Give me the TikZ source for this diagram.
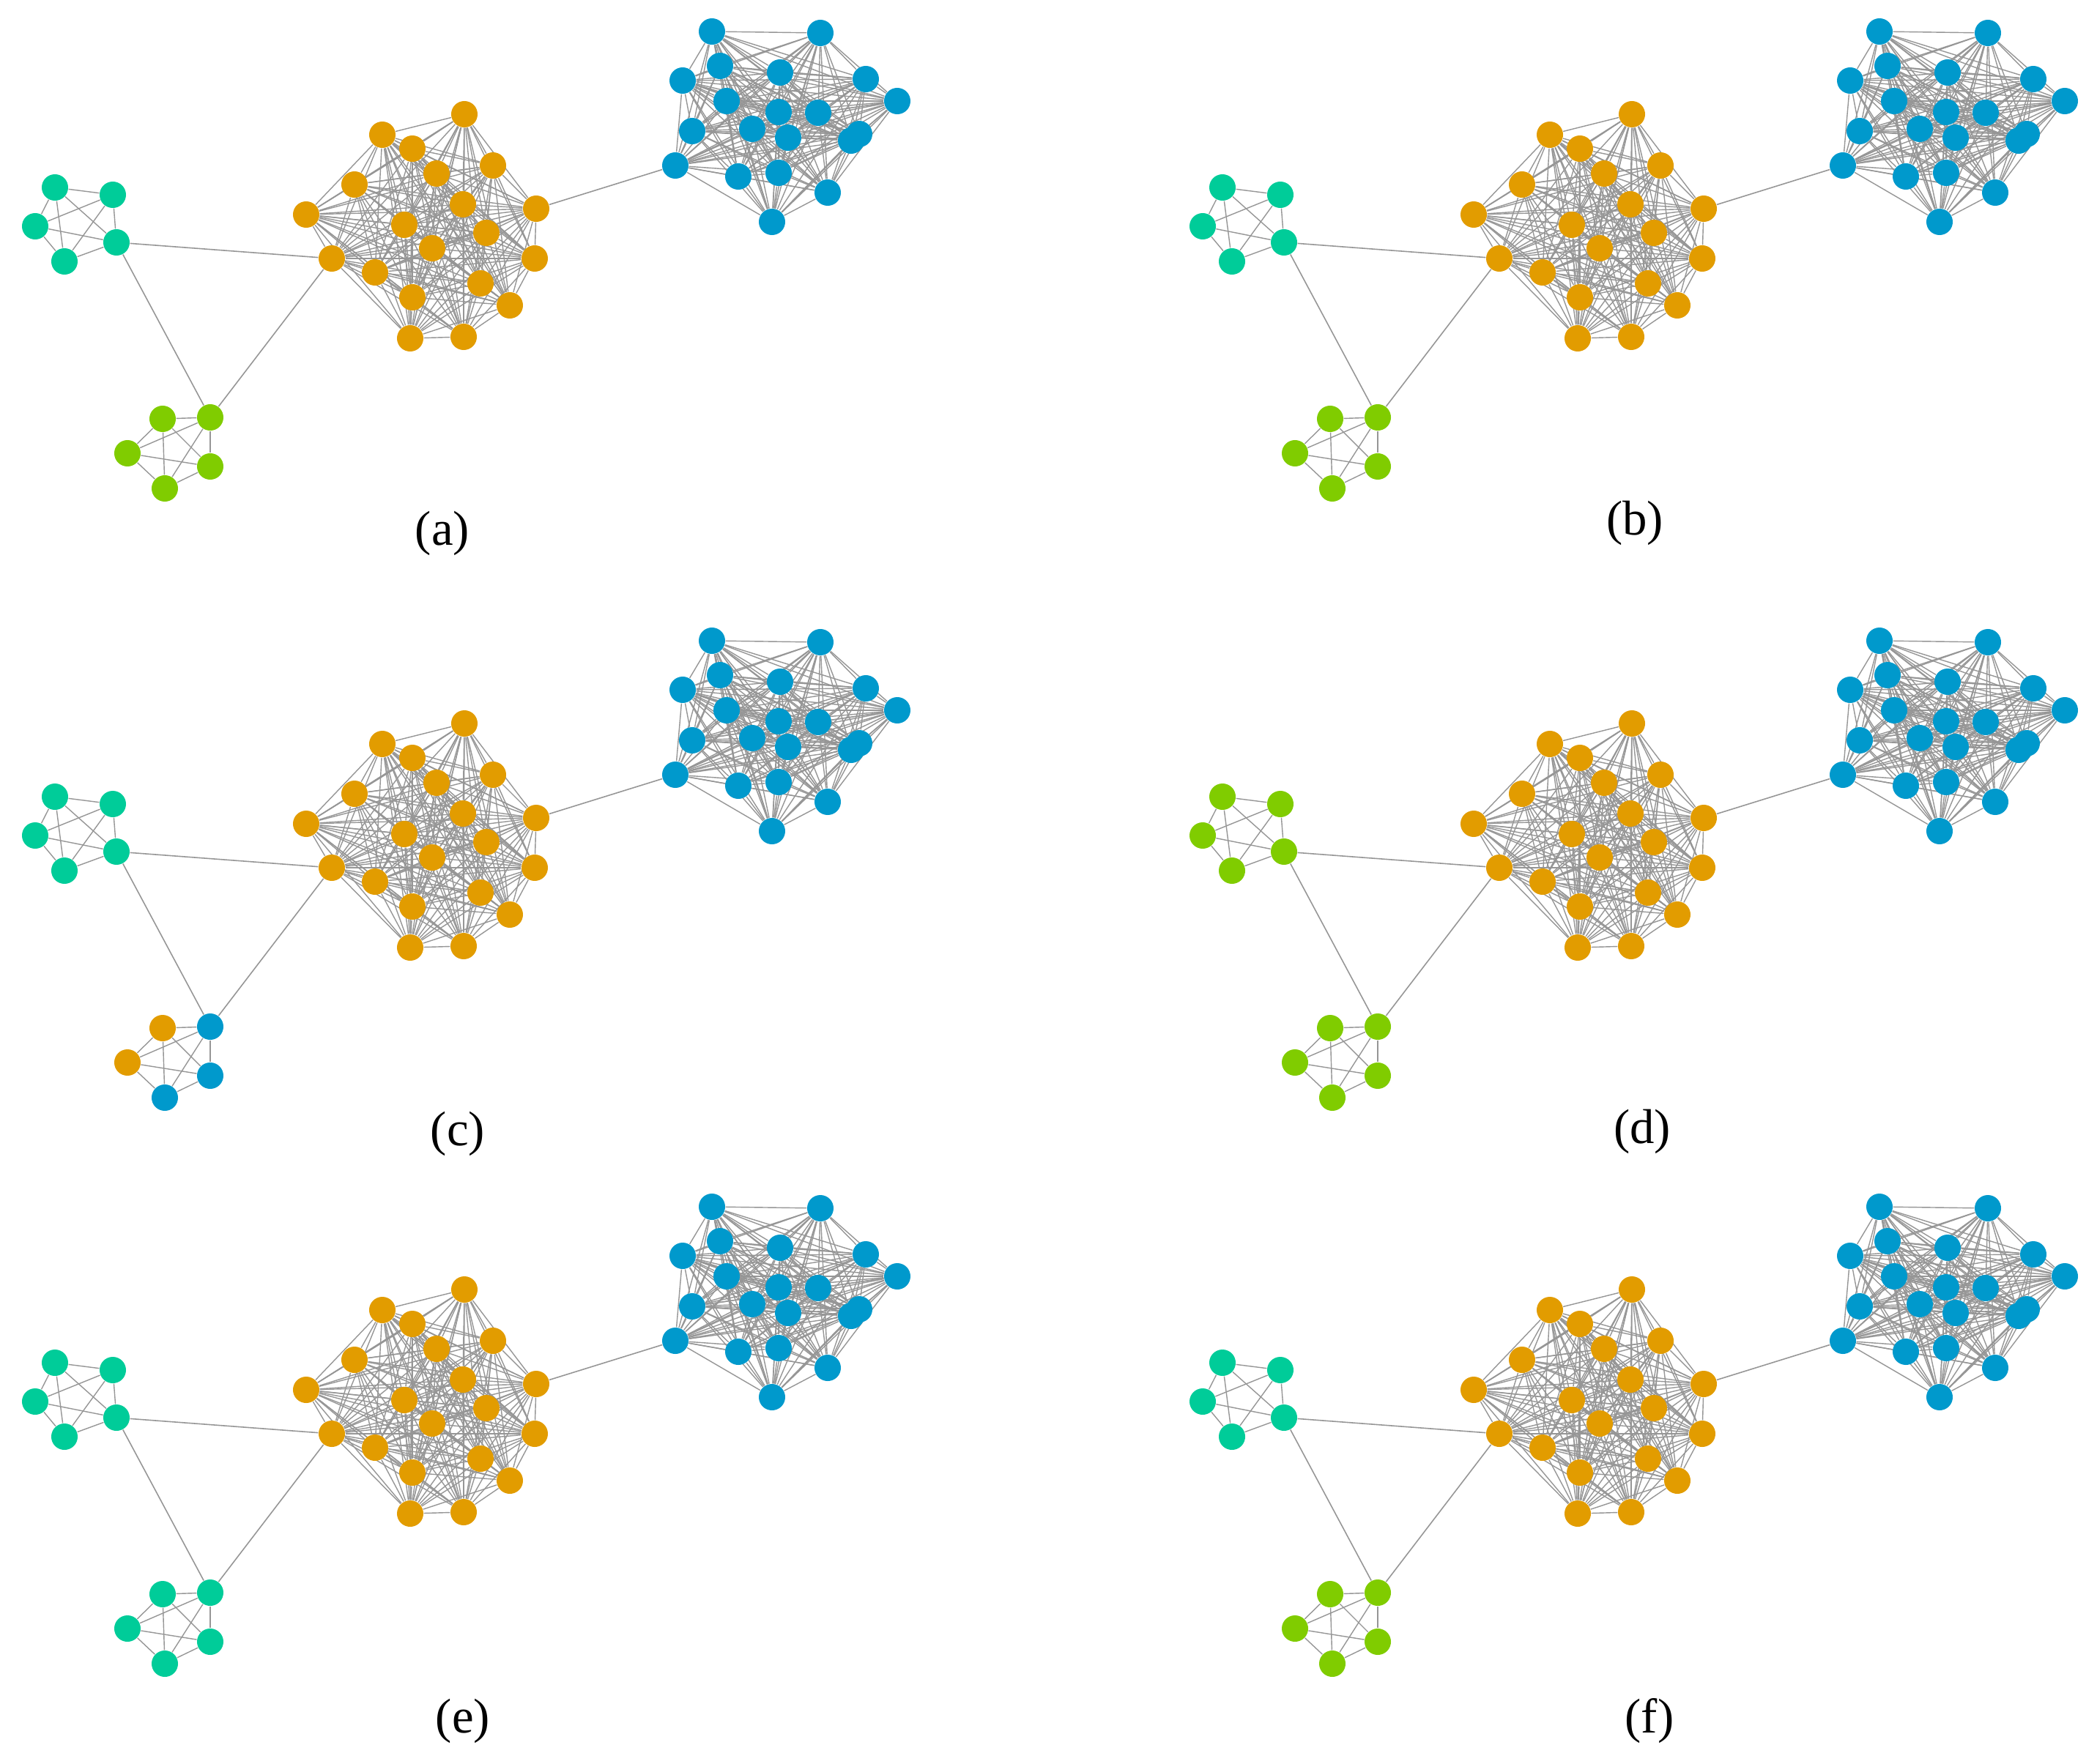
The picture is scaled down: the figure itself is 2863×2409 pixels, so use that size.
\documentclass[tikz,border=0pt]{standalone}
\usepackage{fontspec}
\setmainfont{Liberation Serif}
\usetikzlibrary{backgrounds}
\definecolor{corange}{RGB}{226,156,0}
\definecolor{cblue}{RGB}{0,153,204}
\definecolor{cteal}{RGB}{0,204,153}
\definecolor{clime}{RGB}{128,204,0}
\definecolor{cedge}{RGB}{150,150,150}
\tikzset{
  vtx/.style={circle, inner sep=0pt, minimum size=0.36cm, draw=none},
  edgeline/.style={draw=cedge, line width=0.4pt},
  linkline/.style={draw=cedge, line width=0.45pt},
  caption/.style={font=\fontsize{19}{22}\selectfont, inner sep=0pt},
}
% #1 prefix, #2 x shift, #3 y shift, #4 colour of the first small group,
% #5-#9 colours of the five nodes of the second small group
\newcommand{\drawpanel}[9]{%
\begin{scope}[shift={(#2,#3)}]
  \foreach \x/\y [count=\n] in {634/156,522/184,563/203,673/226,596/237,484/252,632/279,732/285,418/293,552/307,664/318,590/339,453/353,730/353,512/372,656/387,563/406,696/417,560/462,633/460}
    \node[vtx, fill=corange] (#1o\n) at (\x,\y) {};
  \foreach \x/\y [count=\n] in {972/43,1120/45,983/90,1065/99,932/110,1182/108,1225/138,992/138,1063/153,1117/154,945/179,1027/176,1076/188,1173/183,1162/192,922/226,1008/241,1063/236,1130/263,1054/303}
    \node[vtx, fill=cblue] (#1b\n) at (\x,\y) {};
  \foreach \x/\y [count=\n] in {75/256,154/266,48/309,159/331,88/357}
    \node[vtx, fill=#4] (#1t\n) at (\x,\y) {};
  \node[vtx, fill=#5] (#1l1) at (222,572) {};
  \node[vtx, fill=#6] (#1l2) at (287,570) {};
  \node[vtx, fill=#7] (#1l3) at (174,619) {};
  \node[vtx, fill=#8] (#1l4) at (287,637) {};
  \node[vtx, fill=#9] (#1l5) at (225,667) {};
  \begin{pgfonlayer}{background}
    \foreach \i in {1,...,19}{%
      \pgfmathtruncatemacro\nxt{\i+1}%
      \foreach \j in {\nxt,...,20}{%
        \draw[edgeline] (#1o\i) -- (#1o\j);
        \draw[edgeline] (#1b\i) -- (#1b\j);
      }%
    }%
    \foreach \i in {1,...,4}{%
      \pgfmathtruncatemacro\nxt{\i+1}%
      \foreach \j in {\nxt,...,5}{%
        \draw[edgeline] (#1t\i) -- (#1t\j);
        \draw[edgeline] (#1l\i) -- (#1l\j);
      }%
    }%
    \draw[linkline] (#1t4) -- (#1o13);
    \draw[linkline] (#1t4) -- (#1l2);
    \draw[linkline] (#1l2) -- (#1o13);
    \draw[linkline] (#1o8) -- (#1b16);
  \end{pgfonlayer}
\end{scope}}
\begin{document}
\begin{tikzpicture}[x=0.01cm, y=-0.01cm]
  \useasboundingbox (0,0) rectangle (2863,2409);
  \drawpanel{a}{0}{0}{cteal}{clime}{clime}{clime}{clime}{clime}
  \drawpanel{b}{1594}{0}{cteal}{clime}{clime}{clime}{clime}{clime}
  \drawpanel{c}{0}{832}{cteal}{corange}{cblue}{corange}{cblue}{cblue}
  \drawpanel{d}{1594}{832}{clime}{clime}{clime}{clime}{clime}{clime}
  \drawpanel{e}{0}{1605}{cteal}{cteal}{cteal}{cteal}{cteal}{cteal}
  \drawpanel{f}{1594}{1605}{cteal}{clime}{clime}{clime}{clime}{clime}
  \node[caption] (capa) at (604,728) {(a)};
  \node[caption] (capb) at (2232,714) {(b)};
  \node[caption] (capc) at (625,1548) {(c)};
  \node[caption] (capd) at (2242,1545) {(d)};
  \node[caption] (cape) at (632,2350) {(e)};
  \node[caption] (capf) at (2252,2350) {(f)};
\end{tikzpicture}
\end{document}
